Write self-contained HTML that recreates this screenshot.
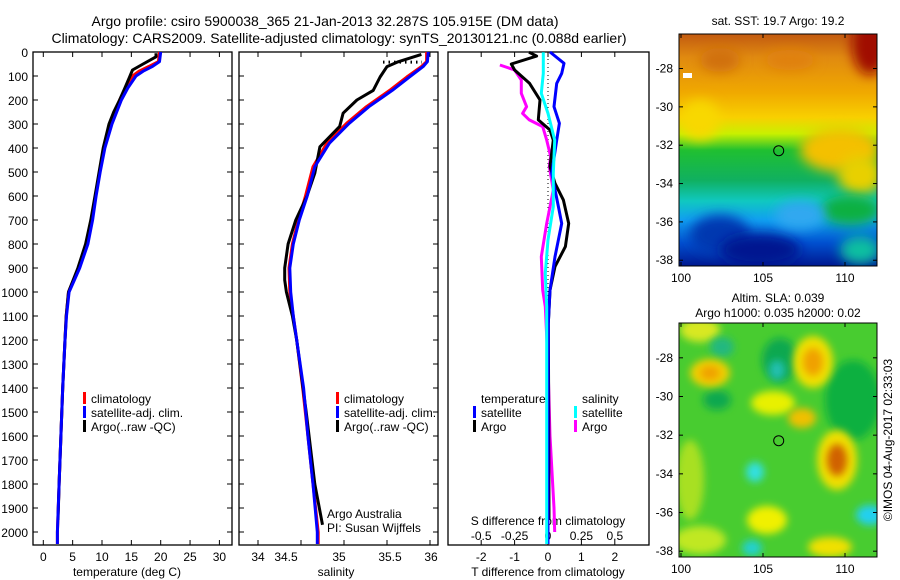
<!DOCTYPE html>
<html><head><meta charset="utf-8">
<style>
html,body{margin:0;padding:0;background:#fff;}
svg{display:block;font-family:"Liberation Sans",sans-serif;}
text{font-size:12px;fill:#000;}
</style></head>
<body>
<svg id="chart" width="900" height="580" viewBox="0 0 900 580" xmlns="http://www.w3.org/2000/svg">
<defs>
<linearGradient id="sstGrad" x1="0" y1="0" x2="0" y2="1">
<stop offset="0" stop-color="#c25a10"/><stop offset="0.1" stop-color="#e08a10"/>
<stop offset="0.25" stop-color="#f0a800"/><stop offset="0.36" stop-color="#f8d000"/>
<stop offset="0.43" stop-color="#c8f000"/><stop offset="0.5" stop-color="#20c030"/>
<stop offset="0.63" stop-color="#10b060"/><stop offset="0.72" stop-color="#10c8c0"/>
<stop offset="0.8" stop-color="#10a0f0"/><stop offset="0.9" stop-color="#0050d0"/>
<stop offset="1" stop-color="#001890"/></linearGradient>
<filter id="blur6" x="-50%" y="-50%" width="200%" height="200%"><feGaussianBlur stdDeviation="6"/></filter>
<filter id="blur4" x="-50%" y="-50%" width="200%" height="200%"><feGaussianBlur stdDeviation="4"/></filter>
<clipPath id="clipTop"><rect x="679" y="34" width="198" height="232"/></clipPath>
<clipPath id="clipBot"><rect x="679" y="323" width="198" height="234"/></clipPath>
</defs>
<g id="layer"></g>
</svg>
<script>
// ---- data (depth in m) ----
const climTdepth = [0,40,60,80,100,150,200,300,400,500,600,700,800,900,1000,1100,1200,1400,1600,1800,2000,2050];
const climT      = [19.8,19.6,18.0,16.3,15.2,14.0,13.0,11.5,10.3,9.6,8.9,8.2,7.3,6.0,4.3,3.9,3.7,3.3,3.0,2.7,2.4,2.4];
const satT       = [20.0,19.8,18.6,17.0,15.8,14.4,13.3,11.7,10.5,9.7,9.0,8.4,7.6,6.2,4.4,3.95,3.7,3.3,3.0,2.7,2.4,2.4];
const argoTdepth = [5,20,50,75,104,150,200,250,300,400,500,600,700,800,900,1000,1100,1200,1400,1600,1800,1950];
const argoT      = [19.2,19.2,17.0,15.2,14.7,13.9,13.0,12.0,11.2,10.2,9.5,8.8,8.1,7.2,5.9,4.3,3.9,3.7,3.3,3.0,2.7,2.5];

const climSdepth = [0,40,61,104,160,228,297,380,478,603,700,800,900,1000,1100,1200,1400,1600,1800,2000,2050];
const climS      = [35.96,35.96,35.90,35.73,35.53,35.26,35.03,34.80,34.64,34.55,34.47,34.40,34.36,34.37,34.41,34.45,34.52,34.58,34.64,34.70,34.70];
const satS       = [35.98,35.97,35.92,35.76,35.56,35.29,35.06,34.83,34.66,34.57,34.48,34.41,34.37,34.38,34.41,34.45,34.53,34.58,34.64,34.69,34.69];
const argoSdepth = [10,42,61,104,160,200,255,310,395,505,600,700,800,900,950,1000,1100,1200,1500,1800,1970];
const argoS      = [35.90,35.62,35.50,35.42,35.34,35.15,34.99,34.95,34.72,34.66,34.57,34.44,34.35,34.31,34.31,34.33,34.40,34.45,34.56,34.66,34.75];

const dTdepthSat = [0,47,89,131,228,297,367,506,644,714,853,992,1131,1500,2000,2050];
const dTsat      = [0.06,0.48,0.41,0.26,0.18,0.34,0.26,0.11,0.31,0.41,0.21,0.06,0.01,0.0,0.0,0.0];
const dTdepthArgo= [1,17,50,75,131,200,283,325,367,478,547,617,714,811,894,992,1131,1500,1950];
const dTargo     = [-0.57,-0.34,-1.1,-1.0,-0.55,-0.24,-0.29,0.06,0.16,0.06,0.21,0.46,0.62,0.52,0.21,0.06,0.01,0.02,0.03];
const dSdepthSat = [1,89,172,256,367,506,644,783,922,1061,1186,1600,2000,2050];
const dSsat      = [-0.035,-0.035,-0.05,0.0,0.05,0.04,0.04,0.0,-0.02,-0.01,-0.01,-0.01,-0.01,-0.01];
const dSdepthArgo= [54,75,117,172,228,256,283,311,367,436,478,575,714,853,992,1061,1300,1600,1900,2000];
const dSargo     = [-0.36,-0.25,-0.2,-0.2,-0.16,-0.19,-0.14,-0.04,-0.01,0.02,0.01,0.04,-0.01,-0.05,-0.04,-0.02,0.0,0.015,0.045,0.05];

const depthTicks = [0,100,200,300,400,500,600,700,800,900,1000,1100,1200,1300,1400,1500,1600,1700,1800,1900,2000];
const tempTicks = [0,5,10,15,20,25,30];
const salTicks = [34,34.5,35,35.5,36];
const salTickLabels = ["34","34.5","35","35.5","36"];
const dTticks = [-2,-1,0,1,2];
const dSticks = [-0.5,-0.25,0,0.25,0.5];
const dSlabels = ["-0.5","-0.25","0","0.25","0.5"];
const latTicks = [-28,-30,-32,-34,-36,-38];
const lonTicks = [100,105,110];

// ---- scales ----
const yD = d => 52 + 0.24*d;
const xT = t => 43.3 + 5.87*t;
const xS = s => 258 + 86*(s-34);
const xdT = t => 548 + 33.4*t;
const xdS = s => 548 + 133.6*s;
const yLatTop = l => 34 + (-26.2 - l)/(-26.2+38.3)*232;
const yLatBot = l => 323 + (-26.2 - l)/(-26.2+38.3)*234;
const xLon = l => 681 + (l-100)*16.4;

const NS="http://www.w3.org/2000/svg";
const layer=document.getElementById('layer');
function mk(tag,attrs,parent){const e=document.createElementNS(NS,tag);for(const k in attrs)e.setAttribute(k,attrs[k]);(parent||layer).appendChild(e);return e;}
function txt(x,y,s,anchor,parent,size){const t=mk('text',{x:x,y:y,'text-anchor':anchor||'start'},parent);if(size)t.style.fontSize=size+'px';t.textContent=s;return t;}

function profLine(depths,vals,xf,color,name){
  const pts=[];
  for(let i=0;i<depths.length;i++) pts.push(xf(vals[i]).toFixed(1)+','+yD(depths[i]).toFixed(1));
  const p=mk('polyline',{points:pts.join(' '),fill:'none',stroke:color,'stroke-width':3,'stroke-linejoin':'round'});
  
  
  return p;
}

function panel(x0,x1,name){
  const g=mk('g',{});
  
  
  mk('rect',{x:x0,y:52,width:x1-x0,height:493,fill:'none',stroke:'#000','stroke-width':1.3},g);
  depthTicks.forEach(d=>{
    mk('line',{x1:x0,x2:x0+5,y1:yD(d),y2:yD(d),stroke:'#000'},g);
    mk('line',{x1:x1-5,x2:x1,y1:yD(d),y2:yD(d),stroke:'#000'},g);
  });
  return g;
}

// Titles
const t1=txt(325,26,"Argo profile: csiro 5900038_365 21-Jan-2013 32.287S 105.915E (DM data)",'middle',null,14);


const t2=txt(339,43,"Climatology: CARS2009. Satellite-adjusted climatology: synTS_20130121.nc (0.088d earlier)",'middle',null,14);



// Panel 1 temperature
const p1=panel(33,232,'temperature-panel');
depthTicks.forEach(d=>{const t=txt(28,yD(d)+5,String(d),'end',p1);});
tempTicks.forEach(v=>{mk('line',{x1:xT(v),x2:xT(v),y1:545,y2:540,stroke:'#000'},p1);mk('line',{x1:xT(v),x2:xT(v),y1:52,y2:57,stroke:'#000'},p1);const t=txt(xT(v),561,String(v),'middle',p1);});
const xl1=txt(127,576,"temperature (deg C)",'middle',p1);
profLine(climTdepth,climT,xT,'#ff0000','temperature-climatology-line');
profLine(argoTdepth,argoT,xT,'#000000','temperature-argo-line');
profLine(climTdepth,satT,xT,'#0000ff','temperature-satellite-line');

// Panel 2 salinity
const p2=panel(239,438,'salinity-panel');
const salLabelX=[258,286,339,390,431];
salTicks.forEach((v,i)=>{mk('line',{x1:xS(v),x2:xS(v),y1:545,y2:540,stroke:'#000'},p2);mk('line',{x1:xS(v),x2:xS(v),y1:52,y2:57,stroke:'#000'},p2);const t=txt(salLabelX[i],561,salTickLabels[i],'middle',p2);});
const xl2=txt(336,576,"salinity",'middle',p2);
profLine(climSdepth,climS,xS,'#ff0000','salinity-climatology-line');
profLine(argoSdepth,argoS,xS,'#000000','salinity-argo-line');
profLine(climSdepth,satS,xS,'#0000ff','salinity-satellite-line');
const dot=mk('line',{x1:383,x2:422,y1:yD(42),y2:yD(42),stroke:'#000','stroke-width':3,'stroke-dasharray':'1.5,4'});

txt(327,518,"Argo Australia",'start');txt(327,532,"PI: Susan Wijffels",'start');

// Panel 3 differences
const p3=mk('g',{});

mk('rect',{x:448,y:52,width:201,height:493,fill:'none',stroke:'#000','stroke-width':1.3},p3);
dTticks.forEach(v=>{mk('line',{x1:xdT(v),x2:xdT(v),y1:545,y2:540,stroke:'#000'},p3);mk('line',{x1:xdT(v),x2:xdT(v),y1:52,y2:57,stroke:'#000'},p3);const t=txt(xdT(v),561,String(v),'middle',p3);});
dSticks.forEach((v,i)=>{const t=txt(xdS(v),540,dSlabels[i],'middle',p3);});
txt(548,525,"S difference from climatology",'middle',p3);
txt(548,576,"T difference from climatology",'middle',p3);
mk('line',{x1:548,x2:548,y1:55,y2:540,stroke:'#000','stroke-dasharray':'1,3'},p3);
profLine(dSdepthArgo,dSargo,xdS,'#ff00ff','s-diff-argo-line');
profLine(dTdepthArgo,dTargo,xdT,'#000000','t-diff-argo-line');
profLine(dTdepthSat,dTsat,xdT,'#0000ff','t-diff-satellite-line');
profLine(dSdepthSat,dSsat,xdS,'#00ffff','s-diff-satellite-line');

// Legends
function legendItem(x,y,color,label,name){
  const g=mk('g',{});
  
  
  mk('rect',{x:x,y:y-11,width:3,height:12,fill:color},g);
  txt(x+8,y,label,'start',g);
}
legendItem(83,403,'#ff0000','climatology','legend-climatology');
legendItem(83,417,'#0000ff','satellite-adj. clim.','legend-satellite');
legendItem(83,431,'#000000','Argo(..raw -QC)','legend-argo');
legendItem(336,403,'#ff0000','climatology','legend-climatology-2');
legendItem(336,417,'#0000ff','satellite-adj. clim.','legend-satellite-2');
legendItem(336,431,'#000000','Argo(..raw -QC)','legend-argo-2');
txt(481,403,"temperature",'start');txt(582,403,"salinity",'start');
legendItem(473,417,'#0000ff','satellite','legend-t-satellite');
legendItem(473,431,'#000000','Argo','legend-t-argo');
legendItem(574,417,'#00ffff','satellite','legend-s-satellite');
legendItem(574,431,'#ff00ff','Argo','legend-s-argo');

// Top map (SST)
const m1=mk('g',{'clip-path':'url(#clipTop)'});

mk('rect',{x:679,y:34,width:198,height:232,fill:'url(#sstGrad)'},m1);
const sstBlobs=[[870,45,18,30,'#a00800'],[840,150,40,22,'#f4c000'],[860,175,22,20,'#e8d000'],[850,210,30,15,'#10b040'],[720,235,30,20,'#0038b0'],[760,250,40,16,'#001890'],[800,215,25,14,'#30a8f0'],[700,120,20,20,'#f8d800'],[860,250,20,14,'#10c0a0'],[720,60,20,12,'#d07010'],[790,60,25,10,'#e08010']];
sstBlobs.forEach(b=>mk('ellipse',{cx:b[0],cy:b[1],rx:b[2],ry:b[3],fill:b[4],filter:'url(#blur6)'},m1));
mk('rect',{x:683,y:73,width:9,height:5,fill:'#fff'},m1);
mk('circle',{cx:778.7,cy:150.7,r:5,fill:'none',stroke:'#000'},m1);
mk('rect',{x:679,y:34,width:198,height:232,fill:'none',stroke:'#000'});
txt(778,25,"sat. SST: 19.7 Argo: 19.2",'middle');

// Bottom map (SLA)
const m2=mk('g',{'clip-path':'url(#clipBot)'});

mk('rect',{x:679,y:323,width:198,height:234,fill:'#48cc30'},m2);
const slaBlobs=[[700,330,20,12,'#d8e820'],[717,400,14,10,'#10a850'],[853,400,28,40,'#10b040'],[780,360,18,22,'#10a850'],[722,347,12,10,'#20b880'],
[710,373,20,14,'#f0d000'],[710,373,10,7,'#f0a000'],[813,362,20,26,'#f0e000'],[813,362,10,14,'#f0a000'],
[773,403,22,12,'#e8f000'],[802,418,14,10,'#f0c000'],[837,460,20,30,'#f0e000'],[837,460,10,16,'#d06000'],
[755,472,9,10,'#30e0e0'],[777,370,8,10,'#20c0b0'],[870,515,14,10,'#20d0f0'],[767,520,20,14,'#f0f000'],
[830,547,22,10,'#f0e000'],[752,548,10,8,'#20d0d0'],[690,480,14,40,'#a8e020'],[700,540,26,14,'#c0e820']];
slaBlobs.forEach(b=>mk('ellipse',{cx:b[0],cy:b[1],rx:b[2],ry:b[3],fill:b[4],filter:'url(#blur4)'},m2));
mk('circle',{cx:778.7,cy:440.7,r:5,fill:'none',stroke:'#000'},m2);
mk('rect',{x:679,y:323,width:198,height:234,fill:'none',stroke:'#000'});
txt(778,302,"Altim. SLA: 0.039",'middle');
txt(778,317,"Argo h1000: 0.035 h2000: 0.02",'middle');

// Map axes
latTicks.forEach(l=>{
  [[yLatTop(l)],[yLatBot(l)]].forEach(a=>{const y=a[0];
    mk('line',{x1:679,x2:683,y1:y,y2:y,stroke:'#000'});mk('line',{x1:873,x2:877,y1:y,y2:y,stroke:'#000'});
    const t=txt(673,y+4,String(l),'end');});
});
lonTicks.forEach(l=>{
  [[266,34],[557,323]].forEach(a=>{
    mk('line',{x1:xLon(l),x2:xLon(l),y1:a[0],y2:a[0]-4,stroke:'#000'});mk('line',{x1:xLon(l),x2:xLon(l),y1:a[1],y2:a[1]+4,stroke:'#000'});
    const t=txt(xLon(l),a[0]+16,String(l),'middle');});
});
const cr=txt(0,0,"©IMOS 04-Aug-2017 02:33:03",'middle');
cr.setAttribute('transform','translate(892,440) rotate(-90)');

</script>
</body></html>
